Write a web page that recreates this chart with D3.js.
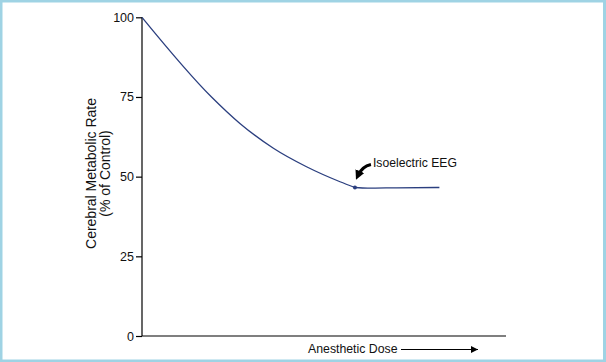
<!DOCTYPE html>
<html>
<head>
<meta charset="utf-8">
<script src="https://cdn.jsdelivr.net/npm/d3@7"></script>
<style>
  body { margin: 0; background: #fff; }
  svg text { font-family: "Liberation Sans", Arial, sans-serif; fill: #111; }
</style>
</head>
<body>
<div id="chart"></div>
<script>
// values (dose has no units, 0-100 across the axis)
const doseValues = [0, 19.1, 26.9, 36.1, 45.2, 54.4, 58.5]
const rateValues = [100, 75.0, 66.7, 58.9, 53.1, 48.4, 46.6]
const plateauDose = [58.5, 62, 70, 81.7]
const plateauRate = [46.6, 46.4, 46.5, 46.6]
const yTicks = [0, 25, 50, 75, 100]
const isoelectricDose = 58.5
const isoelectricRate = 46.6

const W = 606, H = 362
const margin = {top: 17.3, right: 100, bottom: 26, left: 142},
    width = W - margin.left - margin.right,
    height = H - margin.top - margin.bottom;

const root = d3.select("#chart").append("svg")
    .attr("width", W)
    .attr("height", H)

// light blue frame
root.append("rect")
    .attr("x", 1).attr("y", 1)
    .attr("width", W - 2.5).attr("height", H - 2)
    .attr("fill", "none")
    .attr("stroke", "#9fd3e4")
    .attr("stroke-width", 3)

const svg = root.append("g")
    .attr("transform", `translate(${margin.left}, ${margin.top})`);

const x = d3.scaleLinear().domain([0, 100]).range([0, width])
const y = d3.scaleLinear().domain([0, 100]).range([height, 0])

// y axis
const yAxis = svg.append("g")
    .call(d3.axisLeft(y).tickValues(yTicks).tickSize(6).tickPadding(2))
yAxis.select(".domain").attr("stroke", "#000").attr("stroke-width", 1.2).attr("d", `M0,0V${height}`)
yAxis.selectAll(".tick line").attr("stroke", "#000").attr("stroke-width", 1.2)
yAxis.selectAll("text").style("font-size", "12.5px").attr("fill", "#111")

// x axis (no ticks)
svg.append("line")
    .attr("x1", 0).attr("x2", width)
    .attr("y1", height).attr("y2", height)
    .attr("stroke", "#000").attr("stroke-width", 1.2)

// y axis title
const yTitle = svg.append("text")
    .attr("transform", `translate(-46, 156.2) rotate(-90)`)
    .attr("text-anchor", "middle")
    .style("font-size", "14px")
yTitle.append("tspan").attr("x", 0).attr("y", 0).text("Cerebral Metabolic Rate")
yTitle.append("tspan").attr("x", 0).attr("y", 13.5).text("(% of Control)")

// curve
const line = d3.line().x(d => x(d[0])).y(d => y(d[1]))
const curvePts = doseValues.map((d, i) => [d, rateValues[i]])
const plateauPts = plateauDose.map((d, i) => [d, plateauRate[i]])

svg.append("path")
    .datum(curvePts)
    .attr("fill", "none")
    .attr("stroke", "#2b3f7f")
    .attr("stroke-width", 1.3)
    .attr("d", line.curve(d3.curveMonotoneX))

svg.append("path")
    .datum(plateauPts)
    .attr("fill", "none")
    .attr("stroke", "#2b3f7f")
    .attr("stroke-width", 1.3)
    .attr("d", line.curve(d3.curveMonotoneX))

svg.append("circle")
    .attr("cx", x(isoelectricDose))
    .attr("cy", y(isoelectricRate))
    .attr("r", 2)
    .attr("fill", "#2b3f7f")

// annotation arrow
root.append("defs").append("marker")
    .attr("id", "head")
    .attr("viewBox", "0 0 10 10")
    .attr("refX", 5).attr("refY", 5)
    .attr("markerWidth", 3.2).attr("markerHeight", 3.2)
    .attr("orient", "auto")
  .append("path").attr("d", "M0,0L10,5L0,10z").attr("fill", "#000")

const ax = x(isoelectricDose), ay = y(isoelectricRate)
svg.append("path")
    .attr("d", `M${ax + 16},${ay - 23} Q${ax + 7},${ay - 21} ${ax + 3},${ay - 12}`)
    .attr("fill", "none")
    .attr("stroke", "#000")
    .attr("stroke-width", 3)
    .attr("marker-end", "url(#head)")

svg.append("text")
    .attr("x", ax + 18)
    .attr("y", ay - 20)
    .style("font-size", "12.2px")
    .text("Isoelectric EEG")

// x axis title with arrow
root.append("text")
    .attr("x", 308)
    .attr("y", 353)
    .style("font-size", "12.3px")
    .text("Anesthetic Dose")

root.append("defs").append("marker")
    .attr("id", "head2")
    .attr("viewBox", "0 0 10 10")
    .attr("refX", 10).attr("refY", 5)
    .attr("markerWidth", 7).attr("markerHeight", 7)
    .attr("markerUnits", "userSpaceOnUse")
    .attr("orient", "auto")
  .append("path").attr("d", "M0,0L10,5L0,10z").attr("fill", "#000")

root.append("line")
    .attr("x1", 401).attr("x2", 478)
    .attr("y1", 349.5).attr("y2", 349.5)
    .attr("stroke", "#000").attr("stroke-width", 1)
    .attr("marker-end", "url(#head2)")
</script>
</body>
</html>
